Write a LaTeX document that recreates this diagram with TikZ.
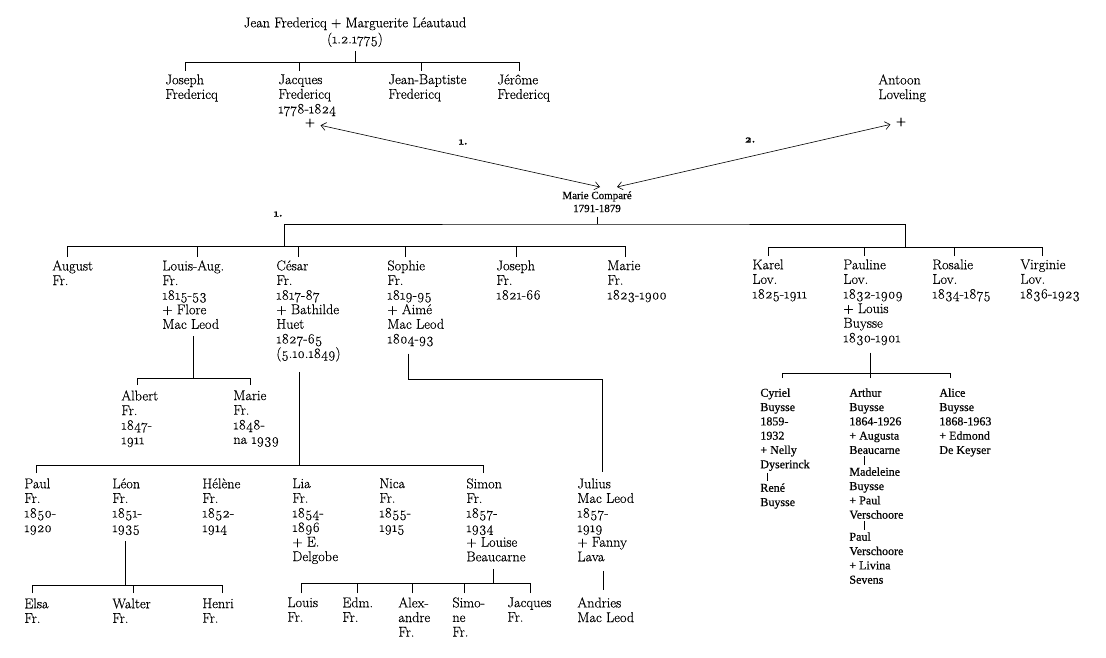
\documentclass[tikz,border=0pt]{standalone}
\usepackage{fontspec}
\setmainfont{Latin Modern Roman}[Numbers=OldStyle, FakeBold=0.35]
\newfontfamily\buyssefont{Liberation Serif}[FakeBold=0.5]
\usetikzlibrary{arrows.meta}

\newcommand{\gen}{\fontsize{14.2}{14.6}\selectfont}
\newcommand{\gensmall}{\buyssefont\fontsize{12}{14.3}\selectfont}

\begin{document}
\begin{tikzpicture}[x=1pt, y=-1pt, line width=0.8pt,
    pers/.style={anchor=north west, inner sep=0pt, align=left, font=\gen},
    buys/.style={pers, font=\gensmall},
    num/.style={inner sep=0pt, font=\fontsize{11}{12}\selectfont\bfseries},
    plus/.style={inner sep=5pt, font=\gen},
    drop/.style={shorten <=#1}, drop/.default=3pt,
    stem/.style={shorten <=#1}, stem/.default=4pt,
    marr/.style={<->, >={Straight Barb[length=5pt,width=8pt]}, line width=0.6pt}]
    \useasboundingbox (0,0) rectangle (1106,658);

    % first generation
    \node[anchor=north, inner sep=0pt, align=center, font=\gen] (tJean) at (355,17)
        {Jean Fredericq + Marguerite Léautaud\\[1.5pt](1.2.1775)};
    \node[pers] (kJos) at (165,74) {Joseph\\Fredericq};
    \node[pers] (kJac) at (278,74) {Jacques\\Fredericq\\1778-1824};
    \node[pers] (kJba) at (388,74) {Jean-Baptiste\\Fredericq};
    \node[pers] (kJer) at (497,74) {Jérôme\\Fredericq};
    \node[plus] (pJac) at (310,123) {+};
    \node[pers] (tAnt) at (878,74) {Antoon\\Loveling};
    \node[plus] (pAnt) at (901,122) {+};

    \coordinate (bTop) at (355,62);
    \draw[stem] (tJean) -- (bTop);
    \draw[drop] ([xshift=20]kJos.north west) |- (bTop);
    \draw[drop] ([xshift=21]kJac.north west) |- (bTop);
    \draw[drop] ([xshift=33]kJba.north west) |- (bTop);
    \draw[drop] ([xshift=22]kJer.north west) |- (bTop);

    % the two marriages
    \node[anchor=north, inner sep=0pt, align=center,
          font=\buyssefont\fontsize{11}{13}\selectfont] (tMar) at (597,191)
        {Marie Comparé\\1791-1879};
    \coordinate (mL) at (600,187);
    \coordinate (mR) at (617,187);
    \draw[marr] (pJac) -- (mL);
    \draw[marr] (mR) -- (pAnt);
    \node[num] (n1) at (463,142) {1.};
    \node[num] (n2) at (750,140) {2.};

    \coordinate (bMar) at (597,224);
    \coordinate (bFr) at (284,246);
    \coordinate (bLov) at (905,247);
    \draw[stem] (tMar) -- (bMar);
    \draw (bFr) |- (bMar) -| (bLov);
    \node[num] (nFr) at (278,214) {1.};

    % Fredericq children
    \node[pers] (kAug) at (52,260) {August\\Fr.};
    \node[pers] (kLA) at (162,260) {Louis-Aug.\\Fr.\\1815-53\\+ Flore\\Mac Leod};
    \node[pers] (kCes) at (276,260) {César\\Fr.\\1817-87\\+ Bathilde\\Huet\\1827-65\\(5.10.1849)};
    \node[pers] (kSop) at (387,260) {Sophie\\Fr.\\1819-95\\+ Aimé\\Mac Leod\\1804-93};
    \node[pers] (kJo) at (496,260) {Joseph\\Fr.\\1821-66};
    \node[pers] (kMa) at (607,260) {Marie\\Fr.\\1823-1900};
    \draw[drop] ([xshift=15]kAug.north west) |- (bFr);
    \draw[drop] ([xshift=35]kLA.north west) |- (bFr);
    \draw[drop] ([xshift=22]kCes.north west) |- (bFr);
    \draw[drop] ([xshift=18]kSop.north west) |- (bFr);
    \draw[drop] ([xshift=20]kJo.north west) |- (bFr);
    \draw[drop] ([xshift=18]kMa.north west) |- (bFr);

    % Loveling children
    \node[pers] (kKar) at (752,259) {Karel\\Lov.\\1825-1911};
    \node[pers] (kPau) at (843,259) {Pauline\\Lov.\\1832-1909\\+ Louis\\Buysse\\1830-1901};
    \node[pers] (kRos) at (932,259) {Rosalie\\Lov.\\1834-1875};
    \node[pers] (kVir) at (1020,259) {Virginie\\Lov.\\1836-1923};
    \draw[drop] ([xshift=16]kKar.north west) |- (bLov);
    \draw[drop] ([xshift=21]kPau.north west) |- (bLov);
    \draw[drop] ([xshift=22]kRos.north west) |- (bLov);
    \draw[drop] ([xshift=22]kVir.north west) |- (bLov);

    % Louis-Aug.
    \coordinate (bLA) at (193,378);
    \node[pers] (kAlb) at (121,390) {Albert\\Fr.\\1847-\\1911};
    \node[pers] (kMaF) at (233,390) {Marie\\Fr.\\1848-\\na 1939};
    \draw[stem=7pt] (kLA.south -| bLA) -- (bLA);
    \draw[drop=5pt] ([xshift=16]kAlb.north west) |- (bLA);
    \draw[drop=5pt] ([xshift=17]kMaF.north west) |- (bLA);

    % César
    \coordinate (bCes) at (299,465);
    \node[pers] (kPaul) at (24,478) {Paul\\Fr.\\1850-\\1920};
    \node[pers] (kLeo) at (112,478) {Léon\\Fr.\\1851-\\1935};
    \node[pers] (kHel) at (202,478) {Hélène\\Fr.\\1852-\\1914};
    \node[pers] (kLia) at (292,478) {Lia\\Fr.\\1854-\\1896\\+ E.\\Delgobe};
    \node[pers] (kNic) at (379,478) {Nica\\Fr.\\1855-\\1915};
    \node[pers] (kSim) at (466,478) {Simon\\Fr.\\1857-\\1934\\+ Louise\\Beaucarne};
    \draw[stem=10pt] (kCes.south -| bCes) -- (bCes);
    \draw[drop=5pt] ([xshift=12]kPaul.north west) |- (bCes);
    \draw[drop=5pt] ([xshift=17]kSim.north west) |- (bCes);

    % Léon
    \coordinate (bLeo) at (125,585);
    \node[pers] (kEls) at (24,598) {Elsa\\Fr.};
    \node[pers] (kWal) at (112,598) {Walter\\Fr.};
    \node[pers] (kHen) at (202,598) {Henri\\Fr.};
    \draw[stem=6pt] (kLeo.south -| bLeo) -- (bLeo);
    \draw[drop=5pt] ([xshift=8]kEls.north west) |- (bLeo);
    \draw[drop=5pt] ([xshift=21]kWal.north west) |- (bLeo);
    \draw[drop=5pt] ([xshift=20]kHen.north west) |- (bLeo);

    % Simon
    \coordinate (bSim) at (493,583);
    \node[pers] (kLou) at (287,597) {Louis\\Fr.};
    \node[pers] (kEdm) at (342,597) {Edm.\\Fr.};
    \node[pers] (kAle) at (398,597) {Alex-\\andre\\Fr.};
    \node[pers] (kSmn) at (452,597) {Simo-\\ne\\Fr.};
    \node[pers] (kJaq) at (507,597) {Jacques\\Fr.};
    \draw[stem=7pt] (kSim.south -| bSim) -- (bSim);
    \draw[drop=4pt] ([xshift=14]kLou.north west) |- (bSim);
    \draw[drop=4pt] ([xshift=15]kEdm.north west) |- (bSim);
    \draw[drop=4pt] ([xshift=14]kAle.north west) |- (bSim);
    \draw[drop=4pt] ([xshift=12]kSmn.north west) |- (bSim);
    \draw[drop=4pt] ([xshift=23]kJaq.north west) |- (bSim);

    % Sophie
    \coordinate (bSop) at (408,379);
    \node[pers] (kJul) at (577,478) {Julius\\Mac Leod\\1857-\\1919\\+ Fanny\\Lava};
    \node[pers] (kAnd) at (577,597) {Andries\\Mac Leod};
    \draw[stem=7pt, shorten >=6pt] (kSop.south -| bSop) -- (bSop) -| ([xshift=25]kJul.north west);
    \draw[stem=9pt, shorten >=7pt] ([xshift=26]kJul.south west) -- ([xshift=26]kAnd.north west);

    % Pauline
    \coordinate (bPau) at (870,373);
    \node[buys] (kCyr) at (760,388) {Cyriel\\Buysse\\1859-\\1932\\+ Nelly\\Dyserinck};
    \node[buys] (kRen) at (760,483) {René\\Buysse};
    \node[buys] (kArt) at (849,388) {Arthur\\Buysse\\1864-1926\\+ Augusta\\Beaucarne};
    \node[buys] (kMad) at (849,467) {Madeleine\\Buysse\\+ Paul\\Verschoore};
    \node[buys] (kPV) at (849,532) {Paul\\Verschoore\\+ Livina\\Sevens};
    \node[buys] (kAli) at (939,388) {Alice\\Buysse\\1868-1963\\+ Edmond\\De Keyser};
    \draw[stem=7pt] ([xshift=27]kPau.south west) -- (bPau);
    \draw[drop=10pt] ([xshift=22]kCyr.north west) |- (bPau);
    \draw[drop=10pt] ([xshift=21]kArt.north west) |- (bPau);
    \draw[drop=10pt] ([xshift=11]kAli.north west) |- (bPau);
    \draw[line width=0.5pt, shorten <=2pt, shorten >=2pt] ([xshift=7]kCyr.south west) -- ([xshift=7]kRen.north west);
    \draw[line width=0.5pt, shorten <=2pt, shorten >=2pt] ([xshift=15]kArt.south west) -- ([xshift=15]kMad.north west);
    \draw[line width=0.5pt, shorten <=2pt, shorten >=2pt] ([xshift=15]kMad.south west) -- ([xshift=15]kPV.north west);
\end{tikzpicture}
\end{document}
